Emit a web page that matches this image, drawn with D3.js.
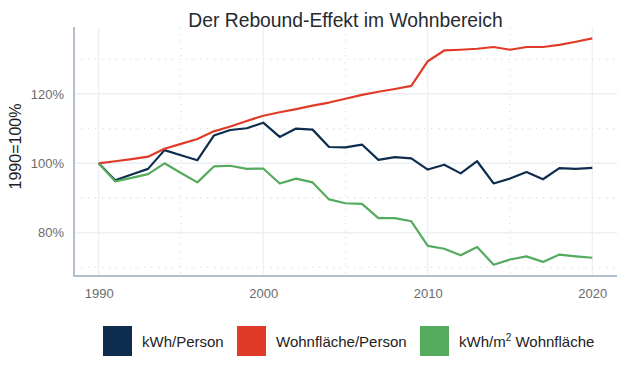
<!DOCTYPE html>
<html>
<head>
<meta charset="utf-8">
<script src="https://cdn.jsdelivr.net/npm/d3@7/dist/d3.min.js"></script>
<style>
  body { margin: 0; background: #fff; }
  svg text { font-family: 'Liberation Sans', Arial, sans-serif; }
</style>
</head>
<body>
<svg id="chart" width="624" height="375"></svg>
<script>
var years = [1990, 1991, 1992, 1993, 1994, 1995, 1996, 1997, 1998, 1999,
  2000, 2001, 2002, 2003, 2004, 2005, 2006, 2007, 2008, 2009,
  2010, 2011, 2012, 2013, 2014, 2015, 2016, 2017, 2018, 2019, 2020]

var kwhPerson = [100, 95.1, 96.8, 98.4, 103.8, 102.3, 100.9, 108.0, 109.6, 110.1,
  111.7, 107.6, 110.0, 109.7, 104.7, 104.6, 105.4, 101.0, 101.8, 101.4,
  98.2, 99.6, 97.1, 100.6, 94.2, 95.6, 97.5, 95.4, 98.6, 98.4, 98.7]

var flaechePerson = [100, 100.6, 101.2, 101.9, 104.2, 105.6, 107.0, 109.2, 110.6, 112.2,
  113.7, 114.7, 115.6, 116.6, 117.5, 118.6, 119.7, 120.6, 121.4, 122.3,
  129.4, 132.5, 132.7, 133.0, 133.5, 132.7, 133.5, 133.5, 134.1, 135.0, 136.0]

var kwhFlaeche = [100, 94.8, 95.8, 96.9, 100.0, 97.2, 94.5, 99.1, 99.3, 98.4,
  98.5, 94.2, 95.6, 94.5, 89.6, 88.5, 88.3, 84.2, 84.2, 83.3,
  76.2, 75.4, 73.5, 75.9, 70.8, 72.3, 73.2, 71.6, 73.7, 73.2, 72.8]

var seriesNames = ['kWh/Person', 'Wohnfläche/Person', 'kWh/m² Wohnfläche']
var seriesColors = ['#0e2d4e', '#e03b27', '#54aa5d']

var xMajor = [1990, 2000, 2010, 2020]
var xMinor = [1995, 2005, 2015]
var yMajor = [80, 100, 120]
var yMinor = [70, 90, 110, 130]

var svg = d3.select('#chart')
var panel = {left: 74, right: 617, top: 27, bottom: 276}

// ggplot-like 5% expansion of the data range
function expand (ext) {
  var pad = (ext[1] - ext[0]) * 0.05
  return [ext[0] - pad, ext[1] + pad]
}

var allValues = kwhPerson.concat(flaechePerson, kwhFlaeche)

var x = d3.scaleLinear()
  .domain(expand(d3.extent(years)))
  .range([panel.left, panel.right])

var y = d3.scaleLinear()
  .domain(expand(d3.extent(allValues)))
  .range([panel.bottom, panel.top])

var grid = svg.append('g')

// minor grid, dotted
grid.selectAll('.vminor').data(xMinor).enter().append('line')
  .attr('x1', function (d) { return x(d) }).attr('x2', function (d) { return x(d) })
  .attr('y1', panel.top).attr('y2', panel.bottom)
  .attr('stroke', '#dde1e6').attr('stroke-width', 1.3)
  .attr('stroke-dasharray', '1.3,5.7')

grid.selectAll('.hminor').data(yMinor).enter().append('line')
  .attr('y1', function (d) { return y(d) }).attr('y2', function (d) { return y(d) })
  .attr('x1', panel.left).attr('x2', panel.right)
  .attr('stroke', '#dde1e6').attr('stroke-width', 1.3)
  .attr('stroke-dasharray', '1.3,5.7')

// major grid, solid
grid.selectAll('.vmajor').data(xMajor).enter().append('line')
  .attr('x1', function (d) { return x(d) }).attr('x2', function (d) { return x(d) })
  .attr('y1', panel.top).attr('y2', panel.bottom)
  .attr('stroke', '#ebeef2').attr('stroke-width', 1.2)

grid.selectAll('.hmajor').data(yMajor).enter().append('line')
  .attr('y1', function (d) { return y(d) }).attr('y2', function (d) { return y(d) })
  .attr('x1', panel.left).attr('x2', panel.right)
  .attr('stroke', '#ebeef2').attr('stroke-width', 1.5)

// axis lines
svg.append('line')
  .attr('x1', panel.left).attr('x2', panel.left)
  .attr('y1', panel.top).attr('y2', panel.bottom + 1)
  .attr('stroke', '#b3bfcc').attr('stroke-width', 2)
svg.append('line')
  .attr('x1', panel.left - 1).attr('x2', panel.right)
  .attr('y1', panel.bottom).attr('y2', panel.bottom)
  .attr('stroke', '#b3bfcc').attr('stroke-width', 2)

// tick labels
var xAxis = svg.append('g')
  .attr('transform', 'translate(0,' + (panel.bottom + 1) + ')')
  .call(d3.axisBottom(x).tickValues(xMajor).tickFormat(d3.format('d')).tickSize(0).tickPadding(12))
var yAxis = svg.append('g')
  .attr('transform', 'translate(' + (panel.left - 1) + ',0)')
  .call(d3.axisLeft(y).tickValues(yMajor).tickFormat(function (d) { return d + '%' }).tickSize(0).tickPadding(9))

;[xAxis, yAxis].forEach(function (a) {
  a.select('.domain').remove()
  a.selectAll('text')
    .style('font-family', "'Liberation Sans', Arial, sans-serif")
    .style('font-size', '13px')
    .attr('fill', '#6b6b6b')
})

// lines
var line = d3.line()
  .x(function (d, i) { return x(years[i]) })
  .y(function (d) { return y(d) })

var seriesData = [kwhPerson, flaechePerson, kwhFlaeche]

svg.selectAll('.series').data(seriesData).enter().append('path')
  .attr('d', line)
  .attr('fill', 'none')
  .attr('stroke', function (d, i) { return seriesColors[i] })
  .attr('stroke-width', 2.2)
  .attr('stroke-linejoin', 'round')

// title
svg.append('text')
  .attr('x', (panel.left + panel.right) / 2)
  .attr('y', 27)
  .attr('text-anchor', 'middle')
  .attr('fill', '#262a30')
  .style('font-size', '19.3px')
  .text('Der Rebound-Effekt im Wohnbereich')

// y axis title
svg.append('text')
  .attr('transform', 'translate(21,' + ((panel.top + panel.bottom) / 2 - 5) + ') rotate(-90)')
  .attr('text-anchor', 'middle')
  .attr('fill', '#222')
  .style('font-size', '16px')
  .text('1990=100%')

// legend
var legendX = [103, 237, 420]
var legend = svg.selectAll('.legend').data(seriesNames).enter().append('g')
  .attr('transform', function (d, i) { return 'translate(' + legendX[i] + ',326)' })

legend.append('rect')
  .attr('width', 29).attr('height', 30)
  .attr('fill', function (d, i) { return seriesColors[i] })

legend.append('text')
  .attr('x', 39).attr('y', 21)
  .attr('fill', '#222')
  .style('font-size', '15px')
  .each(function (d) {
    var t = d3.select(this)
    if (d.indexOf('²') < 0) { t.text(d); return }
    var parts = d.split('²')
    t.append('tspan').text(parts[0])
    t.append('tspan').attr('dy', -6).style('font-size', '10px').text('2')
    t.append('tspan').attr('dy', 6).text(parts[1])
  })
</script>
</body>
</html>
